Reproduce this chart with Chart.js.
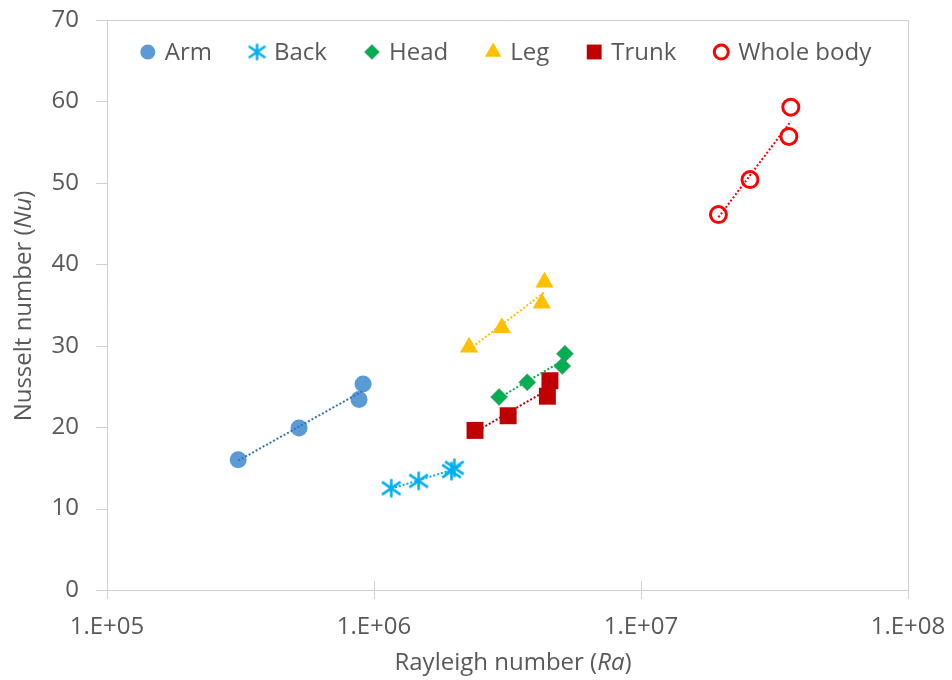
<!DOCTYPE html>
<html>
<head>
<meta charset="utf-8">
<title>Nusselt vs Rayleigh</title>
<script src="https://cdn.jsdelivr.net/npm/chart.js@4.4.1/dist/chart.umd.min.js"></script>
<style>
    html, body { margin: 0; padding: 0; background: #fff; }
    #wrap { width: 952px; height: 680px; }
</style>
</head>
<body>
<div id="wrap"><canvas id="nuChart" width="952" height="680"></canvas></div>
<script>
// values
var armRa = [3.10e5, 5.24e5, 8.79e5, 9.10e5];
var armNu = [16.0, 19.9, 23.4, 25.3];
var backRa = [1.16e6, 1.47e6, 1.95e6, 2.00e6];
var backNu = [12.5, 13.4, 14.6, 15.0];
var headRa = [2.94e6, 3.75e6, 5.07e6, 5.19e6];
var headNu = [23.7, 25.5, 27.5, 29.0];
var legRa = [2.27e6, 3.01e6, 4.25e6, 4.35e6];
var legNu = [29.8, 32.2, 35.2, 37.8];
var trunkRa = [2.39e6, 3.18e6, 4.46e6, 4.56e6];
var trunkNu = [19.6, 21.4, 23.8, 25.7];
var wholeRa = [1.95e7, 2.56e7, 3.58e7, 3.64e7];
var wholeNu = [46.1, 50.4, 55.7, 59.3];

var seriesNames = ['Arm', 'Back', 'Head', 'Leg', 'Trunk', 'Whole body'];
var xTicks = [1e5, 1e6, 1e7, 1e8];
var xTickLabels = ['1.E+05', '1.E+06', '1.E+07', '1.E+08'];
var yTicks = [0, 10, 20, 30, 40, 50, 60, 70];

var textColor = '#595959';
var axisColor = '#D0D0D0';
var fontFamily = "'Open Sans', 'Noto Sans', sans-serif";

function toPoints(ra, nu) {
    var pts = [];
    for (var i = 0; i < ra.length; i++) {
        pts.push({x: ra[i], y: nu[i]});
    }
    return pts;
}

// logarithmic trendline (y = a + b*log x), like the spreadsheet one
function logTrend(ra, nu) {
    var n = ra.length, sx = 0, sy = 0, sxx = 0, sxy = 0;
    for (var i = 0; i < n; i++) {
        var lx = Math.log10(ra[i]);
        sx += lx; sy += nu[i]; sxx += lx * lx; sxy += lx * nu[i];
    }
    var b = (n * sxy - sx * sy) / (n * sxx - sx * sx);
    var a = (sy - b * sx) / n;
    var lo = Math.min.apply(null, ra), hi = Math.max.apply(null, ra);
    return [{x: lo, y: a + b * Math.log10(lo)}, {x: hi, y: a + b * Math.log10(hi)}];
}

function starCanvas(size, color) {
    var c = document.createElement('canvas');
    c.width = size; c.height = size;
    var g = c.getContext('2d');
    var m = size / 2, e = 1.2, d = size * 0.2;
    g.strokeStyle = color;
    g.lineWidth = 2.6;
    g.beginPath();
    g.moveTo(m, e); g.lineTo(m, size - e);
    g.moveTo(e, d); g.lineTo(size - e, size - d);
    g.moveTo(size - e, d); g.lineTo(e, size - d);
    g.stroke();
    return c;
}

var styles = [
    {pointStyle: 'circle', radius: 8.5, legendRadius: 7.5, bg: '#5B9BD5', border: '#5B9BD5', bw: 0, line: '#2E75B6'},
    {pointStyle: starCanvas(21, '#00B0F0'), legendStyle: starCanvas(19, '#00B0F0'), radius: 10, legendRadius: 9, bg: '#00B0F0', border: '#00B0F0', bw: 0, line: '#00B0F0'},
    {pointStyle: 'rectRot', radius: 8.5, legendRadius: 7.5, bg: '#00B050', border: 'rgba(128,128,128,0.6)', bw: 1, line: '#00B050'},
    {pointStyle: 'triangle', radius: 10.5, legendRadius: 9.5, bg: '#FFC000', border: '#FFC000', bw: 0, line: '#FFC000'},
    {pointStyle: 'rect', radius: 12, legendRadius: 10.5, bg: '#C00000', border: '#C00000', bw: 0, line: '#C00000'},
    {pointStyle: 'circle', radius: 8, legendRadius: 7, bg: '#FFFFFF', border: '#FF0000', bw: 3, line: '#FF0000'}
];

var raSets = [armRa, backRa, headRa, legRa, trunkRa, wholeRa];
var nuSets = [armNu, backNu, headNu, legNu, trunkNu, wholeNu];

var datasets = [];
for (var k = 0; k < seriesNames.length; k++) {
    var st = styles[k];
    datasets.push({
        label: seriesNames[k] + ' trend',
        data: logTrend(raSets[k], nuSets[k]),
        showLine: true,
        borderColor: st.line,
        borderWidth: 2,
        borderDash: [2, 2],
        pointRadius: 0,
        fill: false,
        order: 1
    });
    datasets.push({
        label: seriesNames[k],
        data: toPoints(raSets[k], nuSets[k]),
        pointStyle: st.pointStyle,
        pointRadius: st.radius,
        pointHoverRadius: st.radius,
        backgroundColor: st.bg,
        borderColor: st.border,
        borderWidth: st.bw,
        order: 2
    });
}

function drawMixed(ctx, parts, cx, cy) {
    var total = 0, i;
    for (i = 0; i < parts.length; i++) {
        ctx.font = (parts[i].italic ? 'italic ' : '') + '24px ' + fontFamily;
        parts[i].w = ctx.measureText(parts[i].text).width;
        total += parts[i].w;
    }
    var x = cx - total / 2;
    ctx.textAlign = 'left';
    ctx.textBaseline = 'middle';
    for (i = 0; i < parts.length; i++) {
        ctx.font = (parts[i].italic ? 'italic ' : '') + '24px ' + fontFamily;
        ctx.fillText(parts[i].text, x, cy);
        x += parts[i].w;
    }
}

var decorPlugin = {
    id: 'decor',
    beforeDatasetsDraw: function(chart) {
        var a = chart.chartArea, ctx = chart.ctx, i, p;
        ctx.save();
        ctx.strokeStyle = axisColor;
        ctx.lineWidth = 1;
        ctx.beginPath();
        ctx.moveTo(a.left, a.top + 0.5);
        ctx.lineTo(a.right + 0.5, a.top + 0.5);
        ctx.lineTo(a.right + 0.5, a.bottom);
        // short tick marks (x ones cross the axis)
        for (i = 0; i < yTicks.length; i++) {
            p = Math.round(chart.scales.y.getPixelForValue(yTicks[i])) + 0.5;
            ctx.moveTo(a.left - 11, p);
            ctx.lineTo(a.left, p);
        }
        for (i = 0; i < xTicks.length; i++) {
            p = Math.round(chart.scales.x.getPixelForValue(xTicks[i])) + 0.5;
            ctx.moveTo(p, a.bottom - 9);
            ctx.lineTo(p, a.bottom + 9);
        }
        ctx.stroke();
        ctx.restore();
    },
    afterDraw: function(chart) {
        var ctx = chart.ctx, a = chart.chartArea;
        ctx.save();
        ctx.fillStyle = textColor;
        drawMixed(ctx, [{text: 'Rayleigh number ('}, {text: 'Ra', italic: true}, {text: ')'}], 513, 663);
        ctx.save();
        ctx.translate(24, 306);
        ctx.rotate(-Math.PI / 2);
        drawMixed(ctx, [{text: 'Nusselt number ('}, {text: 'Nu', italic: true}, {text: ')'}], 0, 0);
        ctx.restore();

        // legend inside the plot, centred at the top
        ctx.font = '24px ' + fontFamily;
        var toText = 17, gap = 45, widths = [], total = 8, i;
        for (i = 0; i < seriesNames.length; i++) {
            widths.push(ctx.measureText(seriesNames[i]).width);
            total += toText + widths[i] + (i < seriesNames.length - 1 ? gap : 0);
        }
        var x = (a.left + a.right) / 2 - total / 2 + 6, y = 52;
        for (i = 0; i < seriesNames.length; i++) {
            var st = styles[i];
            ctx.fillStyle = st.bg;
            ctx.strokeStyle = st.border;
            ctx.lineWidth = st.bw;
            Chart.helpers.drawPoint(ctx, {
                pointStyle: st.legendStyle || st.pointStyle,
                radius: st.legendRadius,
                rotation: 0,
                borderWidth: st.bw
            }, x, y);
            ctx.fillStyle = textColor;
            ctx.font = '24px ' + fontFamily;
            ctx.textAlign = 'left';
            ctx.textBaseline = 'middle';
            ctx.fillText(seriesNames[i], x + toText, y + 1);
            x += toText + widths[i] + gap;
        }
        ctx.restore();
    }
};

Chart.defaults.font.family = fontFamily;
Chart.defaults.font.size = 24;
Chart.defaults.color = textColor;

var ctx = document.getElementById('nuChart');
var nuChart = new Chart(ctx, {
    type: 'scatter',
    data: {datasets: datasets},
    options: {
        responsive: false,
        animation: false,
        layout: {padding: {top: 20, right: 44, bottom: 0, left: 0}},
        plugins: {
            legend: {display: false},
            tooltip: {enabled: false}
        },
        scales: {
            x: {
                type: 'logarithmic',
                min: 1e5,
                max: 1e8,
                afterBuildTicks: function(scale) {
                    scale.ticks = xTicks.map(function(v) { return {value: v}; });
                },
                afterFit: function(scale) { scale.height = 90; },
                ticks: {
                    padding: 4,
                    maxRotation: 0,
                    callback: function(value, index) { return xTickLabels[index]; }
                },
                // tick length only spaces the labels; marks are drawn by the plugin
                grid: {drawOnChartArea: false, drawTicks: true, tickLength: 19, tickColor: 'rgba(0,0,0,0)'},
                border: {color: axisColor}
            },
            y: {
                min: 0,
                max: 70,
                afterFit: function(scale) { scale.width = 107; },
                ticks: {stepSize: 10, padding: 4},
                grid: {drawOnChartArea: false, drawTicks: true, tickLength: 24, tickColor: 'rgba(0,0,0,0)'},
                border: {color: axisColor}
            }
        }
    },
    plugins: [decorPlugin]
});
</script>
</body>
</html>
